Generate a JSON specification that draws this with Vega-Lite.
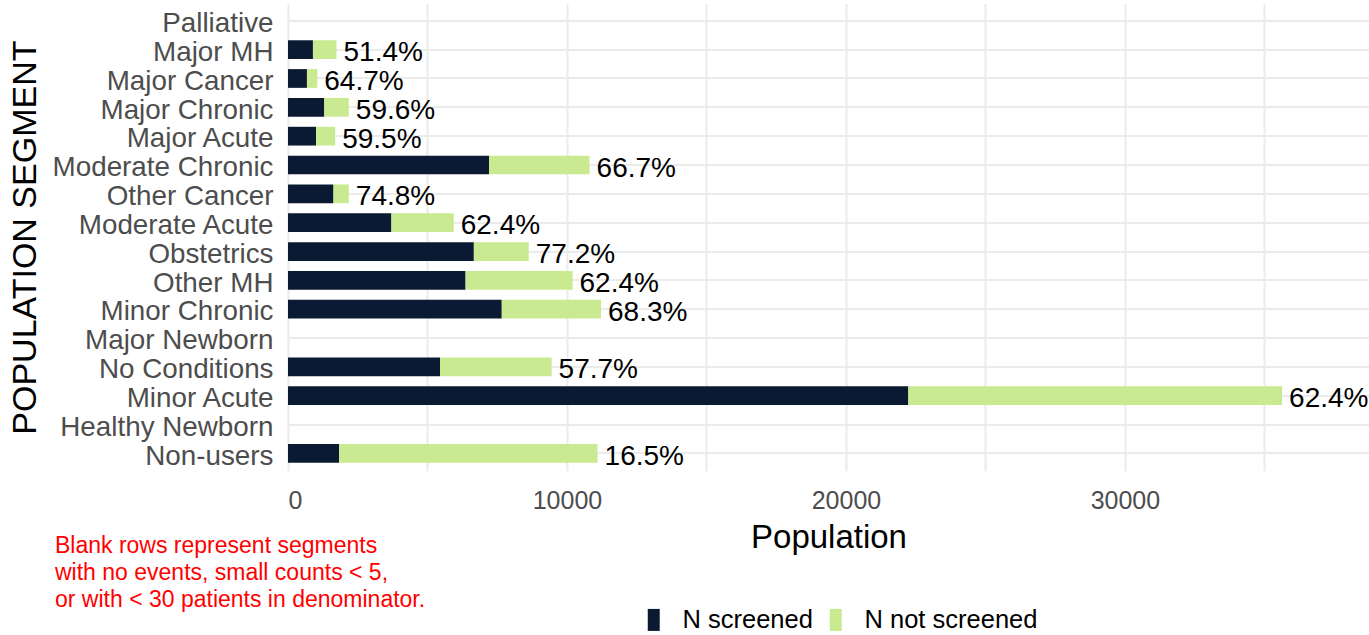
{
  "$schema": "https://vega.github.io/schema/vega-lite/v6.json",
  "autosize": "none",
  "padding": {"left": 288, "top": 3.5, "right": 0, "bottom": 164.3},
  "width": 1081,
  "height": 467.2,
  "background": "white",
  "config": {
    "view": {"stroke": null},
    "font": "Liberation Sans"
  },
  "title": {
    "text": ["Blank rows represent segments", "with no events, small counts < 5,", "or with < 30 patients in denominator."],
    "orient": "bottom",
    "anchor": "start",
    "frame": "group",
    "dx": -233,
    "dy": -99,
    "color": "#FF0000",
    "font": "Liberation Sans",
    "fontSize": 23,
    "fontWeight": "normal",
    "lineHeight": 27,
    "baseline": "top",
    "offset": 0,
    "limit": 0
  },
  "data": {
    "values": [
      {"segment": "Palliative"},
      {"segment": "Major MH", "N screened": 894, "N not screened": 846, "pct": "51.4%"},
      {"segment": "Major Cancer", "N screened": 679, "N not screened": 371, "pct": "64.7%"},
      {"segment": "Major Chronic", "N screened": 1300, "N not screened": 880, "pct": "59.6%"},
      {"segment": "Major Acute", "N screened": 1006, "N not screened": 684, "pct": "59.5%"},
      {"segment": "Moderate Chronic", "N screened": 7210, "N not screened": 3600, "pct": "66.7%"},
      {"segment": "Other Cancer", "N screened": 1630, "N not screened": 550, "pct": "74.8%"},
      {"segment": "Moderate Acute", "N screened": 3707, "N not screened": 2233, "pct": "62.4%"},
      {"segment": "Obstetrics", "N screened": 6662, "N not screened": 1968, "pct": "77.2%"},
      {"segment": "Other MH", "N screened": 6365, "N not screened": 3835, "pct": "62.4%"},
      {"segment": "Minor Chronic", "N screened": 7663, "N not screened": 3557, "pct": "68.3%"},
      {"segment": "Major Newborn"},
      {"segment": "No Conditions", "N screened": 5453, "N not screened": 3997, "pct": "57.7%"},
      {"segment": "Minor Acute", "N screened": 22236, "N not screened": 13398, "pct": "62.4%"},
      {"segment": "Healthy Newborn"},
      {"segment": "Non-users", "N screened": 1831, "N not screened": 9266, "pct": "16.5%"}
    ]
  },
  "transform": [
    {"fold": ["N screened", "N not screened"], "as": ["key", "value"]},
    {"filter": "isValid(datum.value)"}
  ],
  "encoding": {
    "y": {
      "field": "segment",
      "type": "nominal",
      "scale": {
        "domain": ["Palliative", "Major MH", "Major Cancer", "Major Chronic", "Major Acute", "Moderate Chronic", "Other Cancer", "Moderate Acute", "Obstetrics", "Other MH", "Minor Chronic", "Major Newborn", "No Conditions", "Minor Acute", "Healthy Newborn", "Non-users"],
        "paddingInner": 0.35,
        "paddingOuter": 0.275
      },
      "axis": {
        "title": "POPULATION SEGMENT",
        "titleFont": "Liberation Sans",
        "titleFontSize": 34,
        "titleFontWeight": "normal",
        "titleColor": "#000000",
        "titleX": -253,
        "titleBaseline": "alphabetic",
        "labelFont": "Liberation Sans",
        "labelFontSize": 27.8,
        "labelColor": "#4D4D4D",
        "labelPadding": 15,
        "labelOffset": 3.2,
        "labelLimit": 400,
        "ticks": false,
        "domain": false,
        "grid": true,
        "bandPosition": 0.5,
        "gridColor": "#EBEBEB",
        "gridWidth": 2
      }
    }
  },
  "layer": [
    {
      "mark": {"type": "bar"},
      "encoding": {
        "x": {
          "field": "value",
          "type": "quantitative",
          "aggregate": "sum",
          "stack": "zero",
          "scale": {"domain": [0, 38750], "nice": false, "zero": true},
          "axis": {
            "title": "Population",
            "titleFont": "Liberation Sans",
            "titleFontSize": 33,
            "titleFontWeight": "normal",
            "titleColor": "#000000",
            "titlePadding": 8,
            "values": [0, 5000, 10000, 15000, 20000, 25000, 30000, 35000],
            "format": "d",
            "labelExpr": "datum.value % 10000 === 0 ? datum.label : ''",
            "labelFont": "Liberation Sans",
            "labelFontSize": 25,
            "labelColor": "#4D4D4D",
            "labelPadding": 18,
            "ticks": false,
            "domain": false,
            "grid": true,
            "gridColor": "#EBEBEB",
            "gridWidth": 2
          }
        },
        "color": {
          "field": "key",
          "type": "nominal",
          "scale": {"domain": ["N screened", "N not screened"], "range": ["#0B1A33", "#C9EA90"]},
          "legend": {
            "title": null,
            "orient": "none",
            "direction": "horizontal",
            "legendX": 353,
            "legendY": 603.3,
            "symbolType": "M-0.545,-1H0.545V1H-0.545Z",
            "symbolSize": 484,
            "symbolStrokeWidth": 0,
            "symbolOpacity": 1,
            "labelFont": "Liberation Sans",
            "labelFontSize": 25.5,
            "labelColor": "#000000",
            "labelOffset": 16,
            "labelLimit": 400,
            "columnPadding": 10
          }
        },
        "order": {"field": "key", "sort": "descending"}
      }
    },
    {
      "transform": [
        {"aggregate": [{"op": "sum", "field": "value", "as": "total"}], "groupby": ["segment", "pct"]}
      ],
      "mark": {"type": "text", "align": "left", "baseline": "middle", "dx": 7, "dy": 3.5, "font": "Liberation Sans", "fontSize": 28, "color": "#000000"},
      "encoding": {
        "x": {"field": "total", "type": "quantitative"},
        "text": {"field": "pct", "type": "nominal"}
      }
    }
  ]
}
